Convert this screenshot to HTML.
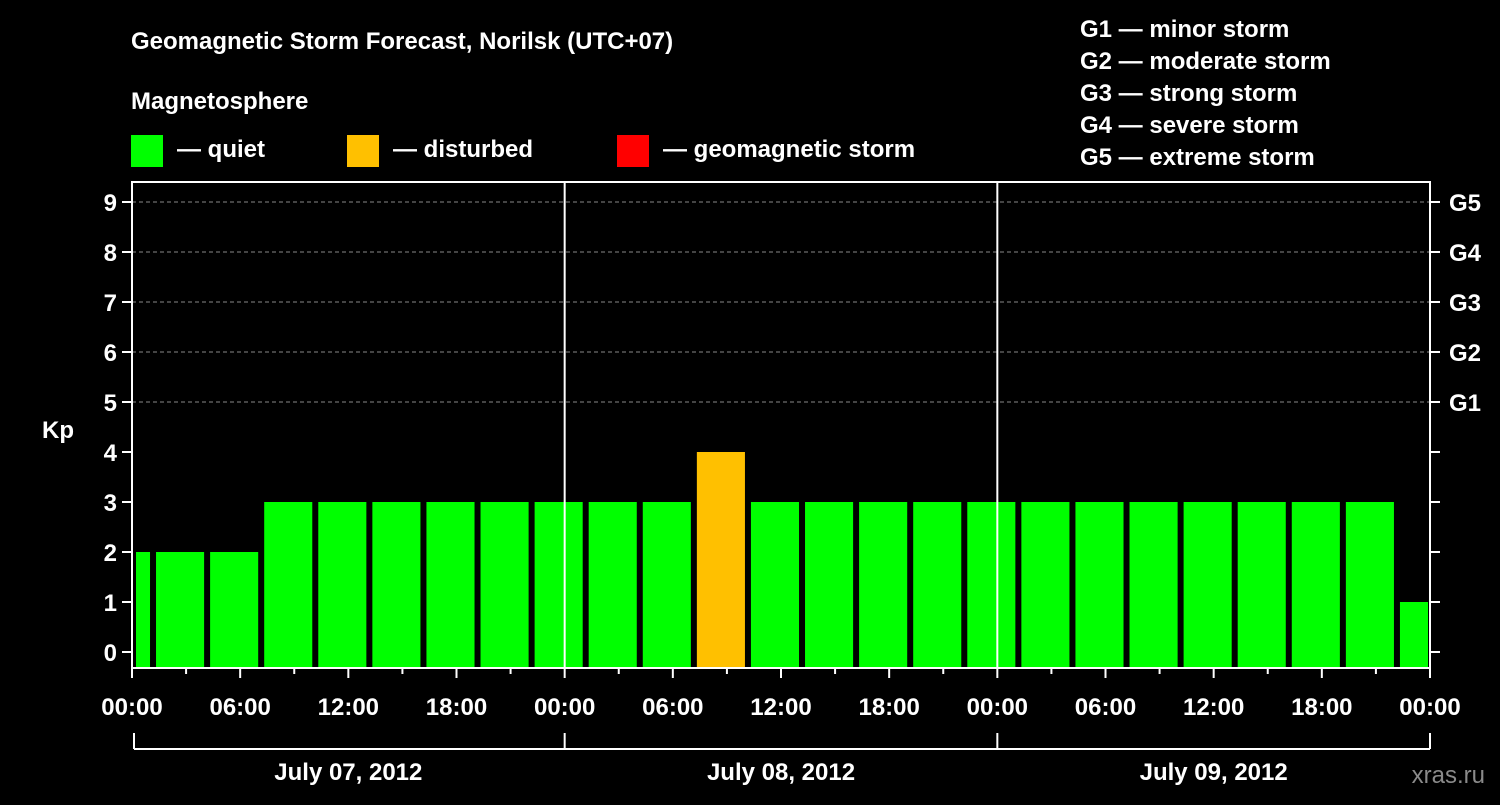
<!DOCTYPE html>
<html><head><meta charset="utf-8"><style>
body{margin:0;background:#000;width:1500px;height:800px;overflow:hidden}
svg text{font-family:"Liberation Sans",Arial,sans-serif;font-weight:bold;fill:#fff}
</style></head><body>
<svg id="c" width="1500" height="800">
<text x="131" y="49" font-size="24">Geomagnetic Storm Forecast, Norilsk (UTC+07)</text>
<text x="131" y="109" font-size="24">Magnetosphere</text>
<rect x="131" y="135" width="32" height="32" fill="#00ff00"/>
<text x="177" y="157" font-size="24">— quiet</text>
<rect x="347" y="135" width="32" height="32" fill="#ffc000"/>
<text x="393" y="157" font-size="24">— disturbed</text>
<rect x="617" y="135" width="32" height="32" fill="#ff0000"/>
<text x="663" y="157" font-size="24">— geomagnetic storm</text>
<g font-size="24">
<text x="1080" y="37">G1 — minor storm</text>
<text x="1080" y="69">G2 — moderate storm</text>
<text x="1080" y="101">G3 — strong storm</text>
<text x="1080" y="133">G4 — severe storm</text>
<text x="1080" y="165">G5 — extreme storm</text>
</g>
<text x="42" y="438" font-size="24">Kp</text>
<text x="1485" y="783" font-size="24" text-anchor="end" fill="#888" style="fill:#8a8a8a;font-weight:normal">xras.ru</text>
<g id="plot"></g>
</svg>
<script>
const kpValues=[2,2,2,3,3,3,3,3,3,3,3,4,3,3,3,3,3,3,3,3,3,3,3,3,1];
const slotStartHours=[-2];
const yTicks=[0,1,2,3,4,5,6,7,8,9];
const gLabels=["G1","G2","G3","G4","G5"];
const timeLabels=["00:00","06:00","12:00","18:00"];
const dates=["July 07, 2012","July 08, 2012","July 09, 2012"];
const NS="http://www.w3.org/2000/svg";
const X0=132,X1=1430,HOURS=72,Y0=652,PX=50,TOP=182,BOT=668;
const xs=h=>X0+(X1-X0)*h/HOURS;
const ys=v=>Y0-v*PX;
const g=document.getElementById('plot');
function mk(t,a){const e=document.createElementNS(NS,t);for(const k in a)e.setAttribute(k,a[k]);g.appendChild(e);return e;}
// grid
for(let v=5;v<=9;v++){const e=mk('line',{x1:X0,x2:X1,y1:ys(v),y2:ys(v),stroke:'#888','stroke-dasharray':'4,3','stroke-width':1});

}
// bars
kpValues.forEach((v,i)=>{const h0=slotStartHours[0]+i*3;let a=xs(h0)+6,b=xs(h0+3);a=Math.max(a,X0+4);b=Math.min(b,X1-2);
const col=v>=5?'#ff0000':(v>=4?'#ffc000':'#00ff00');
const r=mk('rect',{x:a,y:ys(v),width:b-a,height:BOT-ys(v),fill:col});

});
// day lines
for(let d=1;d<3;d++){const e=mk('line',{x1:xs(d*24),x2:xs(d*24),y1:TOP,y2:BOT,stroke:'#fff','stroke-width':2});

}
// frame
const f=mk('rect',{x:X0,y:TOP,width:X1-X0,height:BOT-TOP,fill:'none',stroke:'#fff','stroke-width':2});


// y ticks
yTicks.forEach(v=>{mk('line',{x1:X0-10,x2:X0,y1:ys(v),y2:ys(v),stroke:'#fff','stroke-width':2});
mk('line',{x1:X1,x2:X1+10,y1:ys(v),y2:ys(v),stroke:'#fff','stroke-width':2});
const t=mk('text',{x:X0-15,y:ys(v)+9,'text-anchor':'end','font-size':24});t.textContent=v;

});
gLabels.forEach((s,i)=>{const t=mk('text',{x:X1+19,y:ys(5+i)+9,'font-size':24});t.textContent=s;

});
// x ticks
for(let h=0;h<=HOURS;h+=3){const major=h%6===0;mk('line',{x1:xs(h),x2:xs(h),y1:BOT,y2:BOT+(major?10:6),stroke:'#fff','stroke-width':2});
if(major){const t=mk('text',{x:xs(h),y:715,'text-anchor':'middle','font-size':24});t.textContent=timeLabels[(h/6)%4];

}}
// date bracket
mk('line',{x1:X0+2,x2:X1,y1:749,y2:749,stroke:'#fff','stroke-width':2});
for(let d=0;d<=3;d++)mk('line',{x1:xs(d*24)+(d==0?2:0),x2:xs(d*24)+(d==0?2:0),y1:733,y2:749,stroke:'#fff','stroke-width':2});
dates.forEach((s,i)=>{const t=mk('text',{x:xs(i*24+12),y:780,'text-anchor':'middle','font-size':24});t.textContent=s;

});
</script>
</body></html>
